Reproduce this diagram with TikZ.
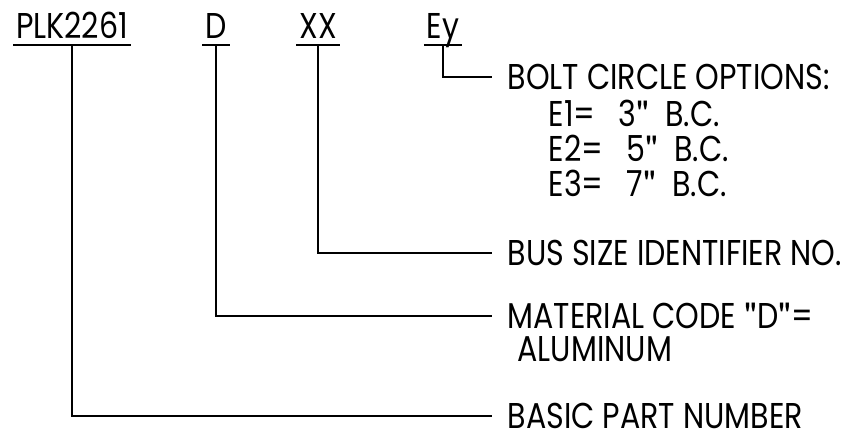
\documentclass[tikz,border=0pt]{standalone}
\usepackage{fontspec}
\setmainfont{Poppins}[FakeStretch=0.84]
\newfontfamily\quotefont{TeX Gyre Heros}
\newcommand{\partfont}{\fontsize{25.5}{30}\selectfont}
\newcommand{\inch}{{\quotefont"}}
\tikzset{
  code/.style={anchor=base,inner xsep=0.06cm,inner ysep=0pt,font=\partfont},
  desc/.style={anchor=west,inner xsep=0.375cm,inner ysep=0pt,font=\partfont},
  subdesc/.style={anchor=base west,inner sep=0pt,font=\partfont}
}
\begin{document}
\begin{tikzpicture}[x=0.025cm,y=-0.025cm,line width=0.9pt]
\useasboundingbox (0,0) rectangle (846,432);
\node[code] (plk) at (72,39) {PLK2261};
\node[code] (mat) at (216,39) {D};
\node[code] (bus) at (318,39) {XX};
\node[code] (bolt) at (443,39) {Ey};
\foreach \n in {plk,mat,bus,bolt}
  \draw ([yshift=-0.15cm]\n.base west) -- ([yshift=-0.15cm]\n.base east);

\node[desc] (boltdesc) at (492,77) {BOLT CIRCLE OPTIONS:};
\node[subdesc] (e1) at (548,127) {E1=\hspace{0.65em}3\inch\hspace{0.45em}B.C.};
\node[subdesc] (e2) at (548,162) {E2=\hspace{0.65em}5\inch\hspace{0.45em}B.C.};
\node[subdesc] (e3) at (548,197) {E3=\hspace{0.65em}7\inch\hspace{0.45em}B.C.};

\node[desc] (busdesc) at (492,253) {BUS SIZE IDENTIFIER NO.};

\node[desc] (matdesc) at (492,316) {MATERIAL CODE \inch{}D\inch{}=};
\node[subdesc] (alu) at (517,361) {ALUMINUM};

\node[desc] (basic) at (492,416) {BASIC PART NUMBER};

\draw ([yshift=-0.15cm]bolt.base) |- (boltdesc.west);
\draw ([yshift=-0.15cm]bus.base) |- (busdesc.west);
\draw ([yshift=-0.15cm]mat.base) |- (matdesc.west);
\draw ([yshift=-0.15cm]plk.base) |- (basic.west);
\end{tikzpicture}
\end{document}
